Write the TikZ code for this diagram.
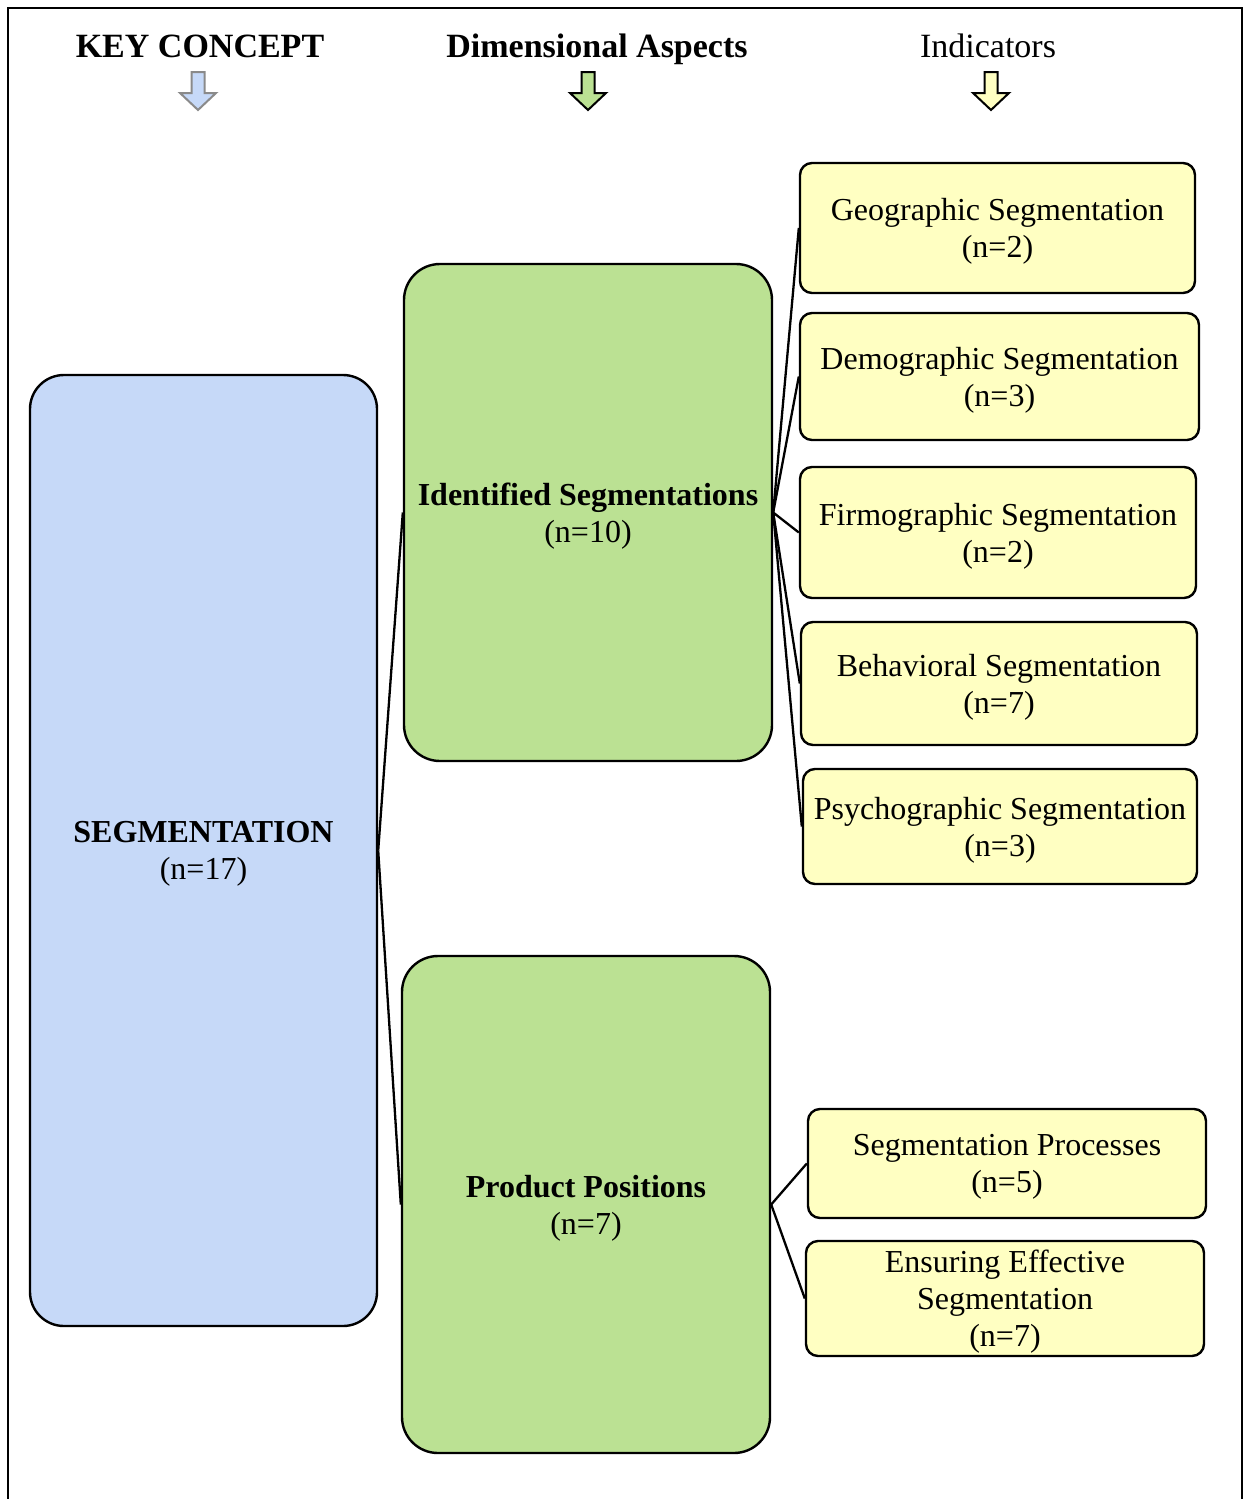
\documentclass[tikz,border=0pt]{standalone}
\usepackage{fontspec}
\setmainfont{Liberation Serif}
\definecolor{keyblue}{HTML}{C6D9F8}
\definecolor{aspgreen}{HTML}{BBE193}
\definecolor{indyellow}{HTML}{FFFFC2}
\definecolor{arrowgray}{HTML}{8A8A8A}
\begin{document}
\begin{tikzpicture}[x=0.5pt,y=-0.5pt,
  boxtext/.style={align=center,inner sep=0pt,text depth=-0.5pt,font=\fontsize{16}{18.5}\selectfont},
  keybox/.style={boxtext,draw=black,line width=1.2pt,fill=keyblue,rounded corners=17pt},
  aspbox/.style={boxtext,draw=black,line width=1.2pt,fill=aspgreen,rounded corners=18pt},
  indbox/.style={boxtext,draw=black,line width=1.2pt,fill=indyellow,rounded corners=6pt},
  header/.style={anchor=base,inner sep=0pt,font=\fontsize{17}{20}\selectfont},
  link/.style={draw=black,line width=1.15pt},
  pics/dnarrow/.style={code={
    \draw[line width=1pt,line join=miter,#1]
      (-6.5,72) -- (6.5,72) -- (6.5,93) -- (18,93) -- (0,110)
      -- (-18,93) -- (-6.5,93) -- cycle;}}
]
\useasboundingbox (0,0) rectangle (1244,1499);

% frame
\draw[line width=1pt] (8,1499) -- (8,8) -- (1242,8) -- (1242,1499);

% column headers
\node[header,font=\fontsize{17}{20}\selectfont\bfseries] (hkey) at (200,57) {KEY CONCEPT};
\node[header,font=\fontsize{17}{20}\selectfont\bfseries] (hdim) at (597,57) {Dimensional Aspects};
\node[header] (hind) at (988,57) {Indicators};
\pic at (198,0) {dnarrow={fill=keyblue,draw=arrowgray}};
\pic at (588,0) {dnarrow={fill=aspgreen,draw=black}};
\pic at (991,0) {dnarrow={fill=indyellow,draw=black}};

% key concept
\node[keybox,minimum width=173.5pt,minimum height=475.5pt] (seg) at (203.5,850.5)
  {\textbf{SEGMENTATION}\\(n=17)};

% dimensional aspects
\node[aspbox,minimum width=184pt,minimum height=248.5pt] (ids) at (588,512.5)
  {\textbf{Identified Segmentations}\\(n=10)};
\node[aspbox,minimum width=184pt,minimum height=248.5pt] (pp) at (586,1204.5)
  {\textbf{Product Positions}\\(n=7)};

% indicators
\node[indbox,minimum width=197.5pt,minimum height=65pt] (geo) at (997.5,228)
  {Geographic Segmentation\\(n=2)};
\node[indbox,minimum width=199.5pt,minimum height=63.5pt] (demo) at (999.5,376.5)
  {Demographic Segmentation\\(n=3)};
\node[indbox,minimum width=198pt,minimum height=65.5pt] (firm) at (998,532.5)
  {Firmographic Segmentation\\(n=2)};
\node[indbox,minimum width=198pt,minimum height=61.5pt] (beh) at (999,683.5)
  {Behavioral Segmentation\\(n=7)};
\node[indbox,minimum width=197pt,minimum height=57.5pt] (psy) at (1000,826.5)
  {Psychographic Segmentation\\(n=3)};
\node[indbox,minimum width=199pt,minimum height=54.5pt] (proc) at (1007,1163.5)
  {Segmentation Processes\\(n=5)};
\node[indbox,minimum width=199pt,minimum height=57.5pt] (ens) at (1005,1298.5)
  {Ensuring Effective\\Segmentation\\(n=7)};

% connectors
\draw[link] (seg.east) -- (ids.west);
\draw[link] (seg.east) -- (pp.west);
\foreach \t in {geo,demo,firm,beh,psy}
  \draw[link] (ids.east) -- (\t.west);
\draw[link] (pp.east) -- (proc.west);
\draw[link] (pp.east) -- (ens.west);
\end{tikzpicture}
\end{document}
